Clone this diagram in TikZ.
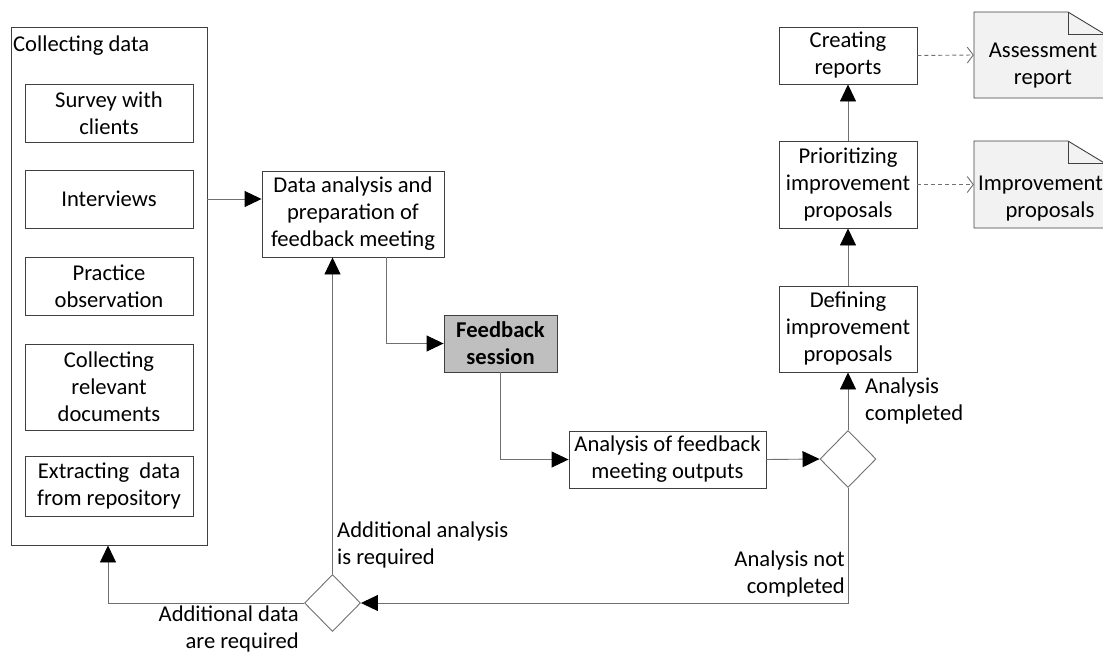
\documentclass[tikz,border=0pt]{standalone}
\usepackage{fontspec}
\setmainfont{Carlito}
\usetikzlibrary{arrows.meta,shapes.geometric,calc}
\definecolor{boxline}{HTML}{404040}
\definecolor{conn}{HTML}{707070}
\definecolor{docfill}{HTML}{F2F2F2}
\definecolor{fbfill}{HTML}{BFBFBF}
\tikzset{
  every node/.style={font=\fontsize{22.6}{27}\selectfont, inner sep=0pt},
  box/.style={draw=boxline, line width=0.9pt, rectangle, align=center},
  dec/.style={draw=conn, line width=0.9pt, shape=diamond, minimum width=56pt, minimum height=57pt},
  flow/.style={draw=conn, line width=0.9pt, -{Triangle[length=17pt,width=16pt,fill=black,color=black]}},
  dflow/.style={draw=conn, line width=0.9pt, dash pattern=on 4pt off 3pt, -{Straight Barb[length=6pt,width=16pt,line width=0.9pt]}},
  lbl/.style={align=left},
  rlbl/.style={align=right},
}
\begin{document}
\begin{tikzpicture}[x=1pt,y=-1pt]
\useasboundingbox (0,0) rectangle (1103,653);
% left container
\node[box, minimum width=196pt, minimum height=518pt] (outer) at (109,286) {};
\node[anchor=base west] (cdlabel) at (13,51) {Collecting data};
\node[box, minimum width=168pt, minimum height=58pt] (survey) at (109,113) {Survey with\\clients};
\node[box, minimum width=168pt, minimum height=58pt] (interviews) at (109,199) {Interviews};
\node[box, minimum width=168pt, minimum height=58pt] (practice) at (109,286) {Practice\\observation};
\node[box, minimum width=168pt, minimum height=86pt] (docs) at (109,387) {Collecting\\relevant\\documents};
\node[box, minimum width=168pt, minimum height=60pt] (extract) at (109,486) {Extracting~ data\\from repository};
% main flow
\node[box, minimum width=182pt, minimum height=86pt] (analysis) at (353,214) {Data analysis and\\preparation of\\feedback meeting};
\node[box, fill=fbfill, minimum width=113pt, minimum height=57pt, font=\fontsize{22.6}{27}\selectfont\bfseries] (feedback) at (500.5,343.5) {Feedback\\session};
\node[box, minimum width=197pt, minimum height=57pt] (outputs) at (667.5,459.5) {Analysis of feedback\\meeting outputs};
\node[dec] (d2) at (848,459) {};
\node[box, minimum width=138pt, minimum height=86pt] (defining) at (848,329) {Defining\\improvement\\proposals};
\node[box, minimum width=138pt, minimum height=87pt] (prior) at (848,184.5) {Prioritizing\\improvement\\proposals};
\node[box, minimum width=138pt, minimum height=57pt] (creating) at (848,55.5) {Creating\\reports};
\node[dec] (d1) at (332.5,603) {};
% documents
\fill[docfill] (974,12) -- (1068,12) -- (1106,35) -- (1106,98) -- (974,98) -- cycle;
\draw[boxline, line width=0.9pt] (1106,98) -- (974,98) -- (974,12) -- (1068,12) -- (1106,35);
\draw[boxline, line width=0.9pt] (1068,12) -- (1068,34) -- (1106,34);
\node[minimum width=129pt, minimum height=86pt] (assess) at (1038.5,55) {};
\node[align=center] (assesstxt) at (1043,66) {Assessment\\report};
\fill[docfill] (974,141) -- (1068,141) -- (1106,164) -- (1106,228) -- (974,228) -- cycle;
\draw[boxline, line width=0.9pt] (1106,228) -- (974,228) -- (974,141) -- (1068,141) -- (1106,164);
\draw[boxline, line width=0.9pt] (1068,141) -- (1068,163) -- (1106,163);
\node[minimum width=129pt, minimum height=87pt] (improve) at (1038.5,184.5) {};
\node[anchor=base west] (improvetxt) at (978,190) {Improvement};
\node[anchor=base] (proptxt) at (1050,217) {proposals};
% connectors
\draw[flow] (outer.east |- interviews) -- (analysis.west |- interviews);
\draw[flow] ([xshift=33pt]analysis.south) |- (feedback.west);
\draw[flow] (feedback.south) |- (outputs.west);
\draw[flow] (outputs.east) -- (d2.west);
\draw[flow] (d2.north) -- (defining.south);
\draw[flow] (defining.north) -- (prior.south);
\draw[flow] (prior.north) -- (creating.south);
\draw[dflow] (creating.east) -- (assess.west);
\draw[dflow] (prior.east) -- (improve.west);
\draw[flow] (d2.south) |- (d1.east);
\draw[flow] (d1.north) -- (d1.north |- analysis.south);
\draw[flow] (d1.west) -| ([xshift=-1pt]outer.south);
% labels
\node[lbl, anchor=west] (lac) at (865,401) {Analysis\\completed};
\node[rlbl, anchor=east] (lanc) at (845,574) {Analysis not\\completed};
\node[lbl, anchor=west] (laar) at (337,545) {Additional analysis\\is required};
\node[rlbl, anchor=east] (ladr) at (299,629) {Additional data\\are required};
\end{tikzpicture}
\end{document}
